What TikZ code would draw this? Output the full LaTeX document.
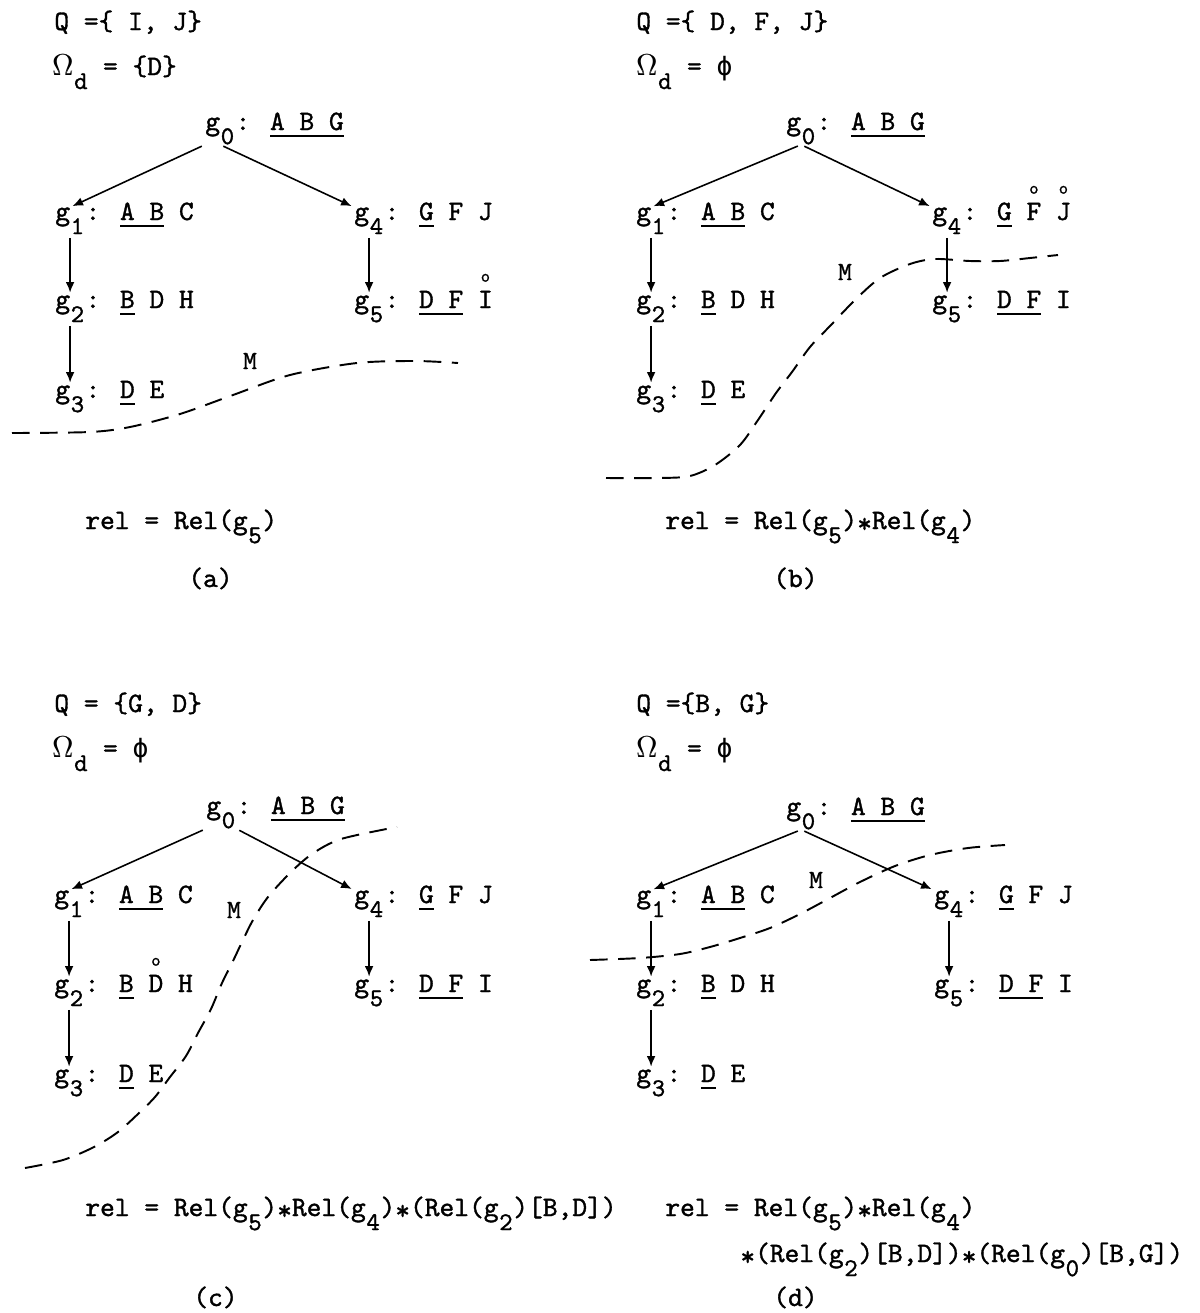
\documentclass[tikz,border=0pt]{standalone}
\usepackage{fontspec}
\setmainfont{lmmono10-regular}[Extension=.otf, FakeBold=1.2]
\newfontfamily\grk{DejaVu Sans Mono}
\usetikzlibrary{arrows.meta}
\newcommand\sub[1]{\raisebox{-8pt}{\makebox[8.4pt]{\fontsize{14.5}{14.5}\selectfont #1}}}
\newcommand\ul[1]{\setbox0\hbox{#1}\rlap{\rule[-4pt]{\wd0}{0.9pt}}\box0\relax}
\newcommand\rg[1]{\setbox0\hbox{#1}\rlap{\makebox[\wd0]{\raisebox{15pt}{\fontsize{10}{10}\selectfont o}}}\box0\relax}
\newcommand\st{\raisebox{-2pt}{*}}
\newcommand\Om{\rlap{$\Omega$}\kern0.5pt$\Omega$}
\newcommand\nul{{\grk\fontsize{15}{17}\selectfont ϕ}}

\begin{document}
\begin{tikzpicture}[x=0.02cm, y=-0.02cm,
        font=\fontsize{16}{18}\selectfont,
        gname/.style={anchor=base west, inner sep=0pt},
        attr/.style={anchor=base west, inner sep=0pt},
        txt/.style={anchor=base west, inner sep=0pt},
        mlab/.style={inner sep=0pt, font=\fontsize{15}{17}\selectfont},
        arr/.style={-{Latex[length=6pt,width=5pt]}, line width=0.9pt, shorten <=2pt, shorten >=1.5pt},
        cut/.style={line width=1.1pt, dash pattern=on 10pt off 6pt}
    ]
        \useasboundingbox (0,0) rectangle (1200,1313);

        % (a)
        \node[txt] (aQ) at (54,30) {Q =\{ I, J\}};
        \node[txt] (aO) at (52,75) {\Om\sub{d} = \{D\}};
        \node[gname] (a0) at (205,130) {g\sub{0}};
        \node[attr] (a0t) at (a0.base east) {: \ul{A B G}};
        \node[gname] (a1) at (55,220) {g\sub{1}};
        \node[attr] (a1t) at (a1.base east) {: \ul{A B} C};
        \node[gname] (a2) at (55,308) {g\sub{2}};
        \node[attr] (a2t) at (a2.base east) {: \ul{B} D H};
        \node[gname] (a3) at (55,398) {g\sub{3}};
        \node[attr] (a3t) at (a3.base east) {: \ul{D} E};
        \node[gname] (a4) at (354,220) {g\sub{4}};
        \node[attr] (a4t) at (a4.base east) {: \ul{G} F J};
        \node[gname] (a5) at (354,308) {g\sub{5}};
        \node[attr] (a5t) at (a5.base east) {: \ul{D F} \rg{I}};
        \draw[arr] (a0.south west) -- (a1.north);
        \draw[arr] (a0.south) -- (a4.north west);
        \draw[arr] (a1.south) -- (a2.north);
        \draw[arr] (a2.south) -- (a3.north);
        \draw[arr] (a4.south) -- (a5.north);
        \draw[cut] plot[smooth] coordinates {(12,433) (90,432) (130,427) (180,414) (233,395) (290,375) (357,363) (415,361) (458,363)};
        \node[mlab] (aM) at (250,361) {M};
        \node[txt] (arel) at (85,529) {rel = Rel(g\sub{5})};
        \node[txt] (alab) at (188,587) {(a)};

        % (b)
        \node[txt] (bQ) at (636,30) {Q =\{ D, F, J\}};
        \node[txt] (bO) at (636,75) {\Om\sub{d} = \nul};
        \node[gname] (b0) at (786,130) {g\sub{0}};
        \node[attr] (b0t) at (b0.base east) {: \ul{A B G}};
        \node[gname] (b1) at (636,220) {g\sub{1}};
        \node[attr] (b1t) at (b1.base east) {: \ul{A B} C};
        \node[gname] (b2) at (636,308) {g\sub{2}};
        \node[attr] (b2t) at (b2.base east) {: \ul{B} D H};
        \node[gname] (b3) at (636,398) {g\sub{3}};
        \node[attr] (b3t) at (b3.base east) {: \ul{D} E};
        \node[gname] (b4) at (932,220) {g\sub{4}};
        \node[attr] (b4t) at (b4.base east) {: \ul{G} \rg{F} \rg{J}};
        \node[gname] (b5) at (932,308) {g\sub{5}};
        \node[attr] (b5t) at (b5.base east) {: \ul{D F} I};
        \draw[arr] (b0.south) -- (b1.north);
        \draw[arr] (b0.south) -- (b4.north west);
        \draw[arr] (b1.south) -- (b2.north);
        \draw[arr] (b2.south) -- (b3.north);
        \draw[arr] (b4.south) -- (b5.north);
        \draw[cut] plot[smooth] coordinates {(606,478) (660,478) (690,476) (715,465) (740,445) (758,420) (776,393) (792,372) (810,347) (831,325) (855,300) (880,278) (910,264) (935,259) (970,261) (1000,261) (1030,258) (1058,255)};
        \node[mlab] (bM) at (845,272) {M};
        \node[txt] (brel) at (665,529) {rel = Rel(g\sub{5})\st Rel(g\sub{4})};
        \node[txt] (blab) at (773,587) {(b)};

        % (c)
        \node[txt] (cQ) at (54,712) {Q = \{G, D\}};
        \node[txt] (cO) at (52,757) {\Om\sub{d} = \nul};
        \node[gname] (c0) at (206,814) {g\sub{0}};
        \node[attr] (c0t) at (c0.base east) {: \ul{A B G}};
        \node[gname] (c1) at (54,903) {g\sub{1}};
        \node[attr] (c1t) at (c1.base east) {: \ul{A B} C};
        \node[gname] (c2) at (54,992) {g\sub{2}};
        \node[attr] (c2t) at (c2.base east) {: \ul{B} \rg{D} H};
        \node[gname] (c3) at (54,1082) {g\sub{3}};
        \node[attr] (c3t) at (c3.base east) {: \ul{D} E};
        \node[gname] (c4) at (354,903) {g\sub{4}};
        \node[attr] (c4t) at (c4.base east) {: \ul{G} F J};
        \node[gname] (c5) at (354,992) {g\sub{5}};
        \node[attr] (c5t) at (c5.base east) {: \ul{D F} I};
        \draw[arr] (c0.south west) -- (c1.north);
        \draw[arr] (c0.south east) -- (c4.north west);
        \draw[arr] (c1.south) -- (c2.north);
        \draw[arr] (c2.south) -- (c3.north);
        \draw[arr] (c4.south) -- (c5.north);
        \draw[cut] plot[smooth] coordinates {(25,1168) (63,1160) (94,1147) (118,1132) (139,1113) (155,1097) (170,1077) (186,1056) (198,1033) (211,1009) (222,983) (233,961) (242,942) (253,920) (268,897) (290,873) (312,854) (341,839) (397,827)};
        \node[mlab] (cM) at (234,910) {M};
        \node[txt] (crel) at (85,1216) {rel = Rel(g\sub{5})\st Rel(g\sub{4})\st(Rel(g\sub{2})[B,D])};
        \node[txt] (clab) at (193,1306) {(c)};

        % (d)
        \node[txt] (dQ) at (636,712) {Q =\{B, G\}};
        \node[txt] (dO) at (636,757) {\Om\sub{d} = \nul};
        \node[gname] (d0) at (786,815) {g\sub{0}};
        \node[attr] (d0t) at (d0.base east) {: \ul{A B G}};
        \node[gname] (d1) at (636,903) {g\sub{1}};
        \node[attr] (d1t) at (d1.base east) {: \ul{A B} C};
        \node[gname] (d2) at (636,992) {g\sub{2}};
        \node[attr] (d2t) at (d2.base east) {: \ul{B} D H};
        \node[gname] (d3) at (636,1082) {g\sub{3}};
        \node[attr] (d3t) at (d3.base east) {: \ul{D} E};
        \node[gname] (d4) at (934,903) {g\sub{4}};
        \node[attr] (d4t) at (d4.base east) {: \ul{G} F J};
        \node[gname] (d5) at (934,992) {g\sub{5}};
        \node[attr] (d5t) at (d5.base east) {: \ul{D F} I};
        \draw[arr] (d0.south) -- (d1.north);
        \draw[arr] (d0.south) -- (d4.north west);
        \draw[arr] (d1.south) -- (d2.north);
        \draw[arr] (d2.south) -- (d3.north);
        \draw[arr] (d4.south) -- (d5.north);
        \draw[cut] plot[smooth] coordinates {(590,960) (640,958) (680,954) (710,947) (740,938) (770,928) (800,914) (830,898) (860,882) (895,866) (930,855) (968,848) (1005,845)};
        \node[mlab] (dM) at (816,880) {M};
        \node[txt] (drel) at (665,1216) {rel = Rel(g\sub{5})\st Rel(g\sub{4})};
        \node[txt] (drel2) at (740,1262) {\st(Rel(g\sub{2})[B,D])\st(Rel(g\sub{0})[B,G])};
        \node[txt] (dlab) at (773,1306) {(d)};
    \end{tikzpicture}
\end{document}
